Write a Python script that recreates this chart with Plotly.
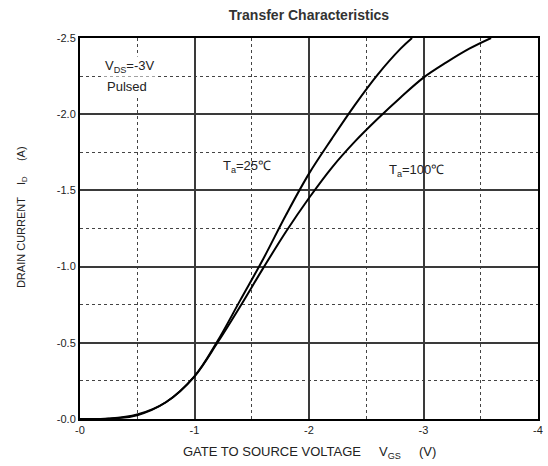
import plotly.graph_objects as go

vgs_25 = [0, -0.25, -0.5, -0.75, -1.0, -1.2, -1.4, -1.6, -1.8, -2.0, -2.2, -2.4, -2.6, -2.8, -2.9]
id_25 = [0, -0.002, -0.025, -0.11, -0.28, -0.51, -0.78, -1.05, -1.34, -1.61, -1.84, -2.06, -2.26, -2.43, -2.50]

vgs_100 = [0, -0.25, -0.5, -0.75, -1.0, -1.2, -1.4, -1.6, -1.8, -2.0, -2.2, -2.4, -2.6, -2.8, -3.0, -3.2, -3.4, -3.59]
id_100 = [0, -0.003, -0.03, -0.11, -0.28, -0.50, -0.74, -0.99, -1.23, -1.45, -1.65, -1.82, -1.97, -2.11, -2.24, -2.34, -2.43, -2.50]

x_ticks = [0, -1, -2, -3, -4]
x_ticktext = ["-0", "-1", "-2", "-3", "-4"]
y_ticks = [0, -0.5, -1.0, -1.5, -2.0, -2.5]
y_ticktext = ["-0.0", "-0.5", "-1.0", "-1.5", "-2.0", "-2.5"]

FONT = "Liberation Sans, Arial, sans-serif"
TXT = "#222"

fig = go.Figure()
for xs, ys in [(vgs_25, id_25), (vgs_100, id_100)]:
    fig.add_trace(go.Scatter(x=xs, y=ys, mode="lines",
                             line=dict(color="black", width=2, shape="spline", smoothing=1.0),
                             showlegend=False, hoverinfo="skip"))

fig.update_layout(
    width=548, height=466,
    margin=dict(l=80, r=5, t=38, b=47),
    paper_bgcolor="white", plot_bgcolor="white",
    font=dict(family=FONT, color=TXT),
    title=dict(text="<b>Transfer Characteristics</b>", xref="paper", x=0.5, xanchor="center",
               yref="container", y=0.968, yanchor="middle",
               font=dict(size=14, color="#333")),
    annotations=[
        dict(x=-0.2, y=-2.31, xref="x", yref="y", text="V<sub>DS</sub>=-3V", showarrow=False,
             xanchor="left", yanchor="middle", bgcolor="white", font=dict(size=13, color=TXT)),
        dict(x=-0.22, y=-2.18, xref="x", yref="y", text="Pulsed", showarrow=False,
             xanchor="left", yanchor="middle", bgcolor="white", font=dict(size=13, color=TXT)),
        dict(x=-1.23, y=-1.66, xref="x", yref="y", text="T<sub>a</sub>=25℃", showarrow=False,
             xanchor="left", yanchor="middle", font=dict(size=13, color=TXT)),
        dict(x=-2.68, y=-1.63, xref="x", yref="y", text="T<sub>a</sub>=100℃", showarrow=False,
             xanchor="left", yanchor="middle", font=dict(size=13, color=TXT)),
        dict(x=0.5, y=0, xref="paper", yref="paper", yshift=-33,
             text="GATE TO SOURCE VOLTAGE     V<sub>GS</sub>     (V)", showarrow=False,
             xanchor="center", yanchor="middle", font=dict(size=13, color=TXT)),
        dict(x=0, y=0.53, xref="paper", yref="paper", xshift=-58, textangle=-90,
             text="DRAIN CURRENT    I<sub>D</sub>     (A)", showarrow=False,
             xanchor="center", yanchor="middle", font=dict(size=11, color=TXT)),
    ],
)

fig.update_xaxes(
    range=[0, -4], tickvals=x_ticks, ticktext=x_ticktext, tickfont=dict(size=11, color=TXT),
    showgrid=True, gridcolor="#3a3a3a", gridwidth=1.5,
    minor=dict(dtick=0.5, showgrid=True, gridcolor="#444", griddash="dot", gridwidth=1),
    showline=True, linecolor="black", linewidth=2, mirror=True, zeroline=False,
    ticks="",
)
fig.update_yaxes(
    range=[0, -2.5], tickvals=y_ticks, ticktext=y_ticktext, tickfont=dict(size=11, color=TXT),
    showgrid=True, gridcolor="#3a3a3a", gridwidth=1.5,
    minor=dict(dtick=0.25, showgrid=True, gridcolor="#444", griddash="dot", gridwidth=1),
    showline=True, linecolor="black", linewidth=2, mirror=True, zeroline=False,
    ticks="",
)

fig.write_html("out.html")
